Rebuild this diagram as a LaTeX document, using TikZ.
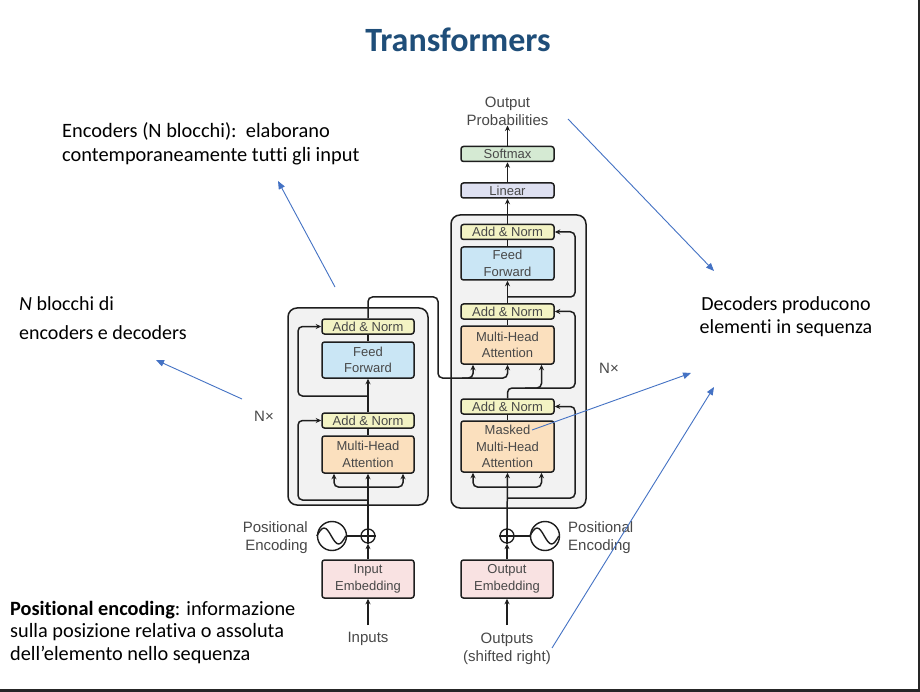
\documentclass[tikz,border=0pt]{standalone}
\usepackage{fontspec}
\setmainfont{Carlito}[Ligatures=NoCommon]
\newfontfamily\diagfont{Liberation Sans}
\usetikzlibrary{arrows.meta,calc}
\definecolor{titleblue}{RGB}{31,78,121}
\definecolor{annblue}{RGB}{68,114,196}
\definecolor{dtext}{RGB}{72,72,72}
\definecolor{anfill}{RGB}{243,243,196}
\definecolor{fffill}{RGB}{202,230,245}
\definecolor{mhafill}{RGB}{251,224,190}
\definecolor{embfill}{RGB}{249,226,226}
\definecolor{smfill}{RGB}{213,234,211}
\definecolor{linfill}{RGB}{222,224,241}
\definecolor{outerfill}{RGB}{242,242,242}
\definecolor{edge}{RGB}{30,30,30}
\definecolor{framecol}{RGB}{38,38,38}
\begin{document}
\begin{tikzpicture}[x=1pt,y=-1pt,
  blk/.style={draw=edge, line width=1.5pt, rounded corners=2.5pt, minimum width=92pt, inner sep=0pt,
    font=\diagfont\fontsize{13}{16.5}\selectfont, text=dtext, align=center},
  anbox/.style={blk, fill=anfill, minimum height=15pt},
  ffbox/.style={blk, fill=fffill},
  mhabox/.style={blk, fill=mhafill},
  embbox/.style={blk, fill=embfill, minimum height=38pt},
  smbox/.style={blk, fill=smfill, minimum height=15pt},
  linbox/.style={blk, fill=linfill, minimum height=15pt},
  outerbox/.style={draw=edge, line width=1.5pt, rounded corners=9pt, fill=outerfill, inner sep=0pt},
  wire/.style={draw=edge, line width=1.5pt, rounded corners=4.5pt},
  arr/.style={wire, -{Stealth[length=5.5pt,width=5pt]}},
  plusnode/.style={circle, draw=edge, line width=1.3pt, minimum size=14pt, inner sep=0pt},
  sinnode/.style={circle, draw=edge, line width=1.4pt, minimum size=29pt, inner sep=0pt},
  lbl/.style={font=\diagfont\fontsize{15}{18}\selectfont, text=dtext, inner sep=0pt, align=center},
  note/.style={font=\fontsize{20}{24.5}\selectfont, inner sep=0pt, align=left, text=black},
  ann/.style={draw=annblue, line width=0.9pt, -{Triangle[length=8pt,width=6.5pt]}},
]
\fill[white] (0,0) rectangle (920,692);
\useasboundingbox (0,0) rectangle (920,692);
\fill[framecol] (0,688.5) rectangle (920,692);
\fill[framecol] (917.5,0) rectangle (920,692);

% title
\node[font=\fontsize{34}{40}\selectfont\bfseries, text=titleblue, inner sep=0pt, anchor=base] (title) at (458,52) {Transformers};

% outer boxes
\node[outerbox, minimum width=140pt, minimum height=197pt] (encbox) at (358,406.5) {};
\node[outerbox, minimum width=135pt, minimum height=293pt] (decbox) at (518.5,361.5) {};

% encoder blocks
\node[anbox] (enAN2) at (368,326.5) {Add \& Norm};
\node[ffbox, minimum height=36pt] (enFF) at (368,360) {Feed\\Forward};
\node[anbox] (enAN1) at (368,420.5) {Add \& Norm};
\node[mhabox, minimum height=37pt] (enMHA) at (368,454.5) {Multi-Head\\Attention};

% decoder blocks
\node[anbox, minimum width=93pt] (deAN3) at (507.5,232) {Add \& Norm};
\node[ffbox, minimum width=93pt, minimum height=33pt] (deFF) at (507.5,263.5) {Feed\\Forward};
\node[anbox, minimum width=93pt] (deAN2) at (507.5,311.5) {Add \& Norm};
\node[mhabox, minimum width=93pt, minimum height=38pt] (deMHA) at (507.5,345) {Multi-Head\\Attention};
\node[anbox, minimum width=93pt] (deAN1) at (507.5,406.5) {Add \& Norm};
\node[mhabox, minimum width=93pt, minimum height=51pt] (deMMHA) at (507.5,446.5) {Masked\\Multi-Head\\Attention};

% top
\node[linbox, minimum width=93pt] (lin) at (507.5,190.5) {Linear};
\node[smbox, minimum width=93pt] (soft) at (507.5,154) {Softmax};
\node[lbl] (outprob) at (507.5,111) {Output\\Probabilities};

% bottom
\node[embbox] (inEmb) at (368,579) {Input\\Embedding};
\node[embbox] (outEmb) at (507,579) {Output\\Embedding};
\node[plusnode] (plusE) at (368,536) {};
\node[plusnode] (plusD) at (507,536) {};
\draw[edge, line width=1.2pt] (plusE.north) -- (plusE.south) (plusE.west) -- (plusE.east);
\draw[edge, line width=1.2pt] (plusD.north) -- (plusD.south) (plusD.west) -- (plusD.east);
\node[sinnode] (sinE) at (332,536) {};
\node[sinnode] (sinD) at (545,536) {};
\draw[edge, line width=1.4pt] (sinE.west) sin ++(7.25,-8) cos ++(7.25,8) sin ++(7.25,8) cos ++(7.25,-8);
\draw[edge, line width=1.4pt] (sinD.west) sin ++(7.25,-8) cos ++(7.25,8) sin ++(7.25,8) cos ++(7.25,-8);
\node[lbl, align=right, anchor=east] (peE) at (308,538) {Positional\\Encoding};
\node[lbl, align=left, anchor=west] (peD) at (568,538) {Positional\\Encoding};
\node[lbl] (inputs) at (368,639) {Inputs};
\node[lbl] (outputs) at (507,649) {Outputs\\(shifted right)};
\node[lbl] (nxE) at (264,416) {N×};
\node[lbl] (nxD) at (609,368) {N×};

% junction coordinates
\coordinate (inBot) at (368,625);
\coordinate (outBot) at (507,625);
\coordinate (jE0) at (368,487);
\coordinate (jE1) at (368,500);
\coordinate (jE2) at (368,396);
\coordinate (jD0) at (507,487);
\coordinate (jD1) at (507,498);
\coordinate (jD3) at (507.5,297);
\coordinate (encTop) at (438,297);
\coordinate (kv) at (507.5,378);
\coordinate (kvK) at (462,378);
\coordinate (qRight) at (575,388);
\coordinate (qQ) at (525,388);

% encoder wiring
\draw[arr] (inBot) -- (inEmb.south);
\draw[arr] (inEmb.north) -- (plusE.south);
\draw[wire] (sinE.east) -- (plusE.west);
\draw[arr] (plusE.north) -- (enMHA.south);
\draw[arr] (jE0) -| ([xshift=-34pt]enMHA.south);
\draw[arr] (jE0) -| ([xshift=35pt]enMHA.south);
\draw[arr] (jE1) -| (298,420.5) -- (enAN1.west);
\draw[wire] (enMHA.north) -- (enAN1.south);
\draw[arr] (enAN1.north) -- (enFF.south);
\draw[arr] (jE2) -| (298,326.5) -- (enAN2.west);
\draw[wire] (enFF.north) -- (enAN2.south);
\draw[arr] (enAN2.north) |- (encTop) |- (kv) -- (deMHA.south);
\draw[arr] (kvK) -| ([xshift=-34.5pt]deMHA.south);

% decoder wiring
\draw[arr] (outBot) -- (outEmb.south);
\draw[arr] (outEmb.north) -- (plusD.south);
\draw[wire] (plusD.east) -- (sinD.west);
\draw[arr] (plusD.north) -- (deMMHA.south);
\draw[arr] (jD0) -| ([xshift=-34.5pt]deMMHA.south);
\draw[arr] (jD0) -| ([xshift=34pt]deMMHA.south);
\draw[arr] (jD1) -| (575,406.5) -- (deAN1.east);
\draw[wire] (deMMHA.north) -- (deAN1.south);
\draw[arr] (deAN1.north) |- (qRight) |- (deAN2.east);
\draw[arr] (qQ) -| ([xshift=34pt]deMHA.south);
\draw[wire] (deMHA.north) -- (deAN2.south);
\draw[arr] (deAN2.north) -- (deFF.south);
\draw[arr] (jD3) -| (575,232) -- (deAN3.east);
\draw[wire] (deFF.north) -- (deAN3.south);
\draw[arr] (deAN3.north) -- (lin.south);
\draw[arr] (lin.north) -- (soft.south);
\draw[arr] (soft.north) -- (outprob.south);

% notes (base anchor = baseline of last line)
\node[note, font=\fontsize{20.4}{24.5}\selectfont, anchor=base west] (noteEnc) at (62,162) {Encoders (N blocchi):\ \ elaborano\\contemporaneamente tutti gli input};
\node[note, font=\fontsize{20}{29}\selectfont, anchor=base west] (noteN) at (19,339) {\textit{N} blocchi di\\encoders e decoders};
\node[note, align=center, font=\fontsize{20}{23.5}\selectfont, anchor=base] (noteDec) at (786,333.5) {Decoders producono\\elementi in sequenza};
\node[note, font=\fontsize{20.3}{22.5}\selectfont, anchor=base west] (notePE) at (10,660) {\textbf{Positional encoding}: informazione\\sulla posizione relativa o assoluta\\dell’elemento nello sequenza};

% annotation arrows
\coordinate (a1s) at (335,287); \coordinate (a1e) at (278,181);
\coordinate (a2s) at (242,399); \coordinate (a2e) at (156,360);
\coordinate (a3s) at (568,119); \coordinate (a3e) at (714,271);
\coordinate (a4s) at (532,430); \coordinate (a4e) at (691,373);
\coordinate (a5s) at (552,648); \coordinate (a5e) at (714,387);
\draw[ann] (a1s) -- (a1e);
\draw[ann] (a2s) -- (a2e);
\draw[ann] (a3s) -- (a3e);
\draw[ann] (a4s) -- (a4e);
\draw[ann] (a5s) -- (a5e);
\end{tikzpicture}
\end{document}
